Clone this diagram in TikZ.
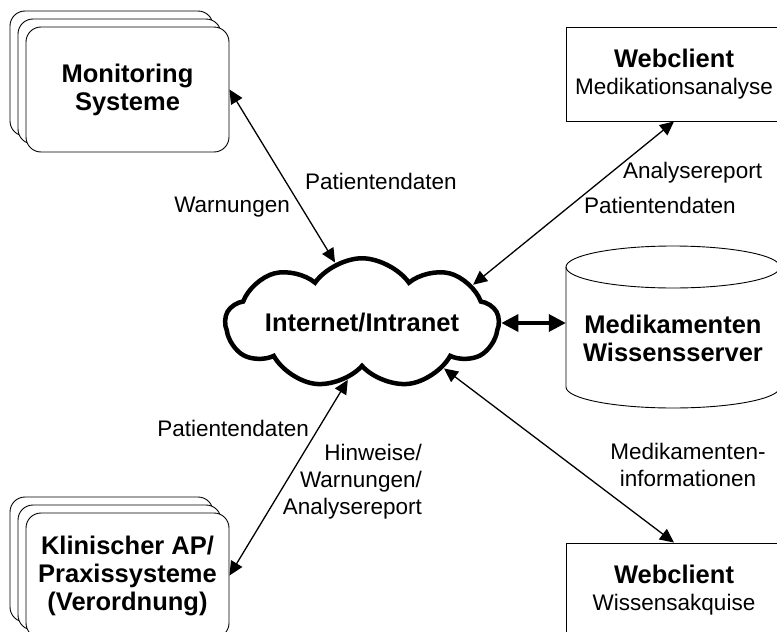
\documentclass[tikz,border=0pt]{standalone}
\usepackage{fontspec}
\setmainfont{Liberation Sans}
\usetikzlibrary{arrows.meta,shapes.symbols,shadows}

\newcommand{\titlefont}{\fontsize{25.5}{28}\selectfont\bfseries}
\newcommand{\labelfont}{\fontsize{22.5}{27}\selectfont}

\tikzset{
	stack/.style={draw, line width=0.9pt, rounded corners=15pt, fill=white, minimum width=203pt, minimum height=125pt, align=center, font=\titlefont, double copy shadow={shadow xshift=-8pt, shadow yshift=8pt}},
	client/.style={draw, line width=0.9pt, fill=white, minimum width=216pt, minimum height=94pt, align=center, font=\labelfont},
	lbl/.style={font=\labelfont, inner sep=0pt},
	link/.style={line width=1.3pt, {Triangle[length=14pt,width=13pt]}-{Triangle[length=14pt,width=13pt]}},
	thicklink/.style={line width=3.5pt, {Triangle[length=17pt,width=17pt]}-{Triangle[length=17pt,width=17pt]}},
}

\begin{document}
\begin{tikzpicture}[x=1pt, y=-1pt]
	\useasboundingbox (0,0) rectangle (777,632);
	\clip (0,0) rectangle (777,632);

	% Systeme links
	\node[stack] (mon) at (127.5,89.5) {Monitoring\\Systeme};
	\node[stack] (klin) at (127.5,575.5) {Klinischer AP/\\Praxissysteme\\(Verordnung)};

	% Netz
	\node[cloud, draw, line width=4.5pt, cloud puffs=9, cloud puff arc=110, aspect=3.2, minimum width=246pt, minimum height=76pt, inner sep=0pt, font=\titlefont] (net) at (362,323) {Internet/Intranet};

	% Webclients
	\node[client] (wtop) at (674,74) {{\titlefont Webclient}\\Medikationsanalyse};
	\node[client] (wbot) at (674,590) {{\titlefont Webclient}\\Wissensakquise};

	% Wissensserver
	\node[font=\titlefont, align=center, minimum width=214pt] (kb) at (673,338) {Medikamenten\\Wissensserver};
	\draw[line width=0.9pt] (566,267) -- (566,387) arc[start angle=180, end angle=0, x radius=107, y radius=21] -- (780,267);
	\draw[line width=0.9pt] (673,267) ellipse [x radius=107, y radius=21];

	% Verbindungen
	\draw[link] (mon.east) -- (net.114);
	\draw[link] (wtop.south) -- (net.19);
	\draw[thicklink] (net.east) -- (net.east -| kb.west);
	\draw[link] (klin.east) -- (net.-104);
	\draw[link] (wbot.north) -- (net.-29);

	% Beschriftungen
	\node[lbl, anchor=west] (lmon1) at (305,181) {Patientendaten};
	\node[lbl, anchor=east] (lmon2) at (290,207) {Warnungen};
	\node[lbl, anchor=west] (lweb1) at (623,173) {Analysereport};
	\node[lbl, anchor=west] (lweb2) at (584,205) {Patientendaten};
	\node[lbl, anchor=east] (lkl1) at (309,428) {Patientendaten};
	\node[lbl, anchor=east, align=right] (lkl2) at (422,482) {Hinweise/\\Warnungen/\\Analysereport};
	\node[lbl, align=center] (lwis) at (688,465) {Medikamenten-\\informationen};
\end{tikzpicture}
\end{document}
